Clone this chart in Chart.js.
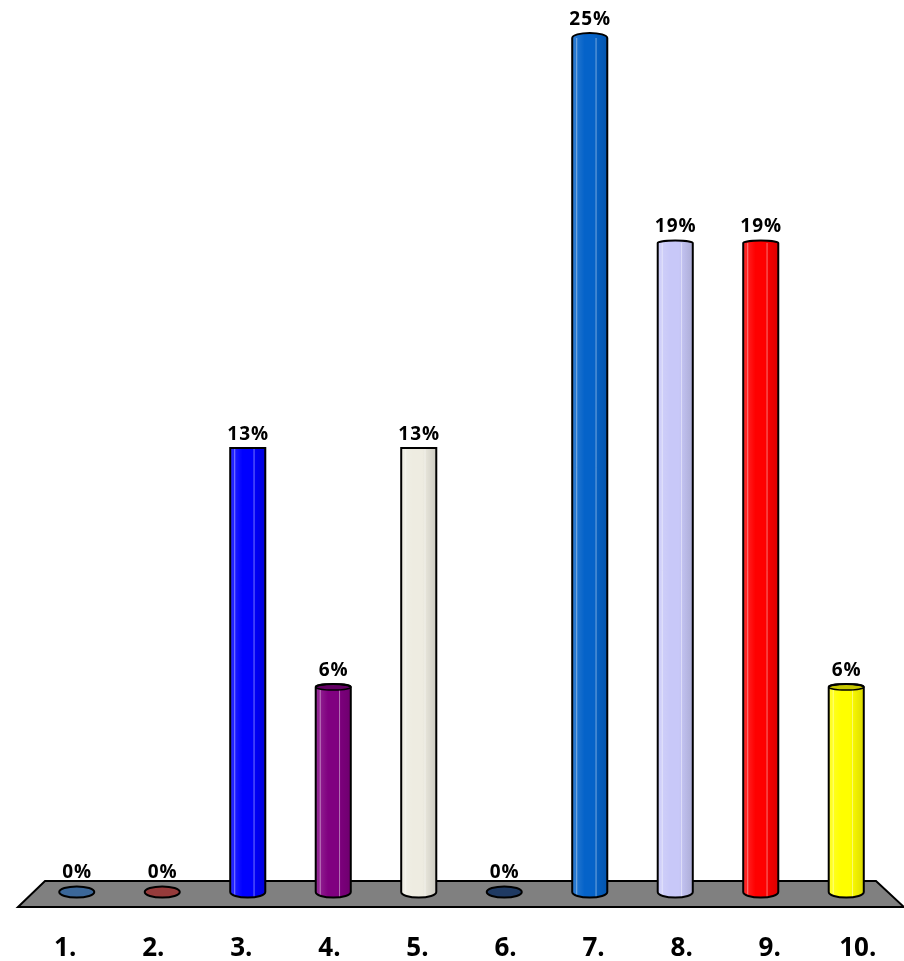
<!DOCTYPE html>
<html>
<head>
<meta charset="utf-8">
<script src="https://cdn.jsdelivr.net/npm/chart.js@4/dist/chart.umd.min.js"></script>
<style>
  html, body { margin: 0; padding: 0; background: #fff; }
  #wrap { width: 904px; height: 961px; }
</style>
</head>
<body>
<div id="wrap"><canvas id="chart" width="904" height="961"></canvas></div>
<script>
const categories = ['1.', '2.', '3.', '4.', '5.', '6.', '7.', '8.', '9.', '10.'];
const percents = [0, 0, 13, 6, 13, 0, 25, 19, 19, 6];
const barColors = ['#3b6799', '#963b3b', '#0000ff', '#800080', '#eeece1',
                   '#1f3a63', '#0563c9', '#c8c8f8', '#ff0000', '#ffff00'];

// floor slab under the bars, 3d cylinder look and the labels
const cylinderPlugin = {
    id: 'cylinders',
    beforeDatasetsDraw: function(chart) {
        const ctx = chart.ctx;
        const a = chart.chartArea;
        ctx.save();
        ctx.beginPath();
        ctx.moveTo(a.left + 11, a.bottom - 11);
        ctx.lineTo(a.right - 13, a.bottom - 11);
        ctx.lineTo(a.right + 15, a.bottom + 15);
        ctx.lineTo(a.left - 16, a.bottom + 15);
        ctx.closePath();
        ctx.fillStyle = '#808080';
        ctx.fill();
        ctx.lineWidth = 2;
        ctx.strokeStyle = '#000';
        ctx.stroke();
        ctx.restore();
    },
    afterDatasetsDraw: function(chart) {
        const ctx = chart.ctx;
        const a = chart.chartArea;
        const eye = a.top + 0.48 * (a.bottom - a.top);
        const k = 0.0125;
        const meta = chart.getDatasetMeta(0);

        meta.data.forEach(function(bar, i) {
            const rx = bar.width / 2;
            const left = bar.x - rx;
            const right = bar.x + rx;
            const topRy = Math.abs(bar.y - eye) * k;
            const baseRy = Math.abs(bar.base - eye) * k;

            // body outline: arched top, straight sides, round bottom
            ctx.save();
            ctx.beginPath();
            ctx.ellipse(bar.x, bar.y, rx, topRy, 0, Math.PI, 2 * Math.PI);
            ctx.lineTo(right, bar.base);
            ctx.ellipse(bar.x, bar.base, rx, baseRy, 0, 0, Math.PI);
            ctx.closePath();
            ctx.fillStyle = barColors[i];
            ctx.fill();

            if (percents[i] > 0) {
                ctx.save();
                ctx.clip();
                const g = ctx.createLinearGradient(left, 0, right, 0);
                g.addColorStop(0, 'rgba(255,255,255,0.18)');
                g.addColorStop(0.35, 'rgba(255,255,255,0)');
                g.addColorStop(0.6, 'rgba(0,0,0,0)');
                g.addColorStop(1, 'rgba(0,0,0,0.14)');
                ctx.fillStyle = g;
                ctx.fillRect(left, bar.y - topRy - 2, bar.width, bar.base - bar.y + topRy + baseRy + 4);
                ctx.strokeStyle = 'rgba(255,255,255,0.45)';
                ctx.lineWidth = 1;
                [left + 4.5, left + bar.width * 0.68].forEach(function(lx) {
                    ctx.beginPath();
                    ctx.moveTo(lx, bar.y);
                    ctx.lineTo(lx, bar.base + baseRy);
                    ctx.stroke();
                });
                ctx.restore();
            }

            // cap face is visible when the top sits below eye level
            if (bar.y > eye && percents[i] > 0) {
                ctx.save();
                ctx.beginPath();
                ctx.ellipse(bar.x, bar.y, rx, topRy, 0, 0, 2 * Math.PI);
                ctx.fillStyle = barColors[i];
                ctx.fill();
                ctx.fillStyle = 'rgba(0,0,0,0.22)';
                ctx.fill();
                ctx.lineWidth = 1.5;
                ctx.strokeStyle = '#000';
                ctx.stroke();
                ctx.restore();
            }

            ctx.beginPath();
            ctx.ellipse(bar.x, bar.y, rx, topRy, 0, Math.PI, 2 * Math.PI);
            ctx.lineTo(right, bar.base);
            ctx.ellipse(bar.x, bar.base, rx, baseRy, 0, 0, Math.PI);
            ctx.closePath();
            ctx.lineWidth = 2;
            ctx.strokeStyle = '#000';
            ctx.stroke();
            ctx.restore();

            // value label
            ctx.save();
            ctx.font = 'bold 19px "Open Sans", sans-serif';
            ctx.letterSpacing = '1px';
            ctx.fillStyle = '#000';
            ctx.textAlign = 'center';
            ctx.textBaseline = 'alphabetic';
            ctx.fillText(percents[i] + '%', bar.x + 0.5, bar.y - topRy - 8);
            ctx.restore();

            // category label, spread a little wider than the bars
            const cx = (a.left + a.right) / 2;
            ctx.save();
            ctx.font = 'bold 26px "Open Sans", sans-serif';
            ctx.fillStyle = '#000';
            ctx.textAlign = 'center';
            ctx.textBaseline = 'middle';
            ctx.fillText(categories[i], cx + (bar.x - cx) * 1.03, a.bottom + 57);
            ctx.restore();
        });
    }
};

new Chart(document.getElementById('chart'), {
    type: 'bar',
    data: {
        labels: categories,
        datasets: [{
            data: percents,
            backgroundColor: barColors,
            borderWidth: 0,
            categoryPercentage: 1,
            barPercentage: 0.41
        }]
    },
    options: {
        responsive: false,
        animation: false,
        layout: { padding: { top: 38, bottom: 69, left: 34, right: 15 } },
        scales: {
            x: { display: false },
            y: { display: false, min: 0, max: 25 }
        },
        plugins: {
            legend: { display: false },
            tooltip: { enabled: false }
        }
    },
    plugins: [cylinderPlugin]
});
</script>
</body>
</html>
